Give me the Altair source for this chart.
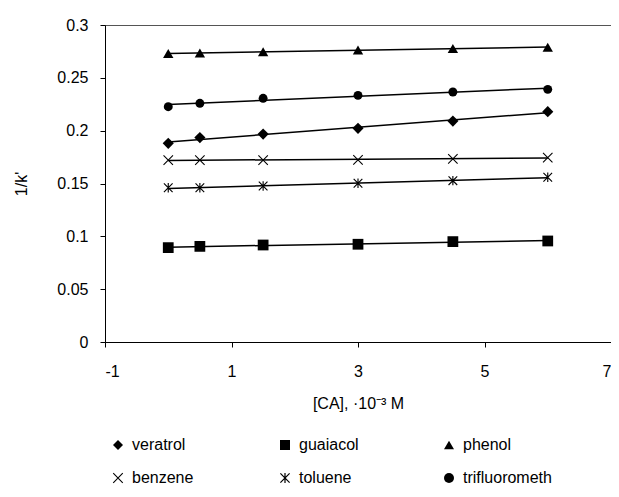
import math
import altair as alt
import pandas as pd

x_vals = [0, 0.5, 1.5, 3, 4.5, 6]
series_names = ["veratrol", "guaiacol", "phenol", "benzene", "toluene", "trifluorometh"]
veratrol = [0.188, 0.1935, 0.1968, 0.2022, 0.2091, 0.2180]
guaiacol = [0.0893, 0.0905, 0.0918, 0.0925, 0.0950, 0.0956]
phenol = [0.2730, 0.2735, 0.2747, 0.2763, 0.2778, 0.2790]
benzene = [0.1722, 0.1722, 0.1722, 0.1724, 0.1733, 0.1745]
toluene = [0.1460, 0.1460, 0.1476, 0.1502, 0.1527, 0.1559]
trifluorometh = [0.2227, 0.2259, 0.2306, 0.2334, 0.2366, 0.2391]

x_ticks = [-1, 1, 3, 5, 7]
y_ticks = [0, 0.05, 0.1, 0.15, 0.2, 0.25, 0.3]

series_values = [veratrol, guaiacol, phenol, benzene, toluene, trifluorometh]
rows = []
for name, vals in zip(series_names, series_values):
    for xv, yv in zip(x_vals, vals):
        rows.append({"x": xv, "y": yv, "series": name, "grp": name})
df = pd.DataFrame(rows)


def bar_path(angle_deg, half_len, half_w):
    a = math.radians(angle_deg)
    ca, sa = math.cos(a), math.sin(a)
    corners = [(-half_w, -half_len), (half_w, -half_len), (half_w, half_len), (-half_w, half_len)]
    pts = [(x * ca - y * sa, x * sa + y * ca) for x, y in corners]
    return "M" + "L".join(f"{px:.3f},{py:.3f}" for px, py in pts) + "Z"


cross_path = bar_path(45, 1.35, 0.11) + bar_path(-45, 1.35, 0.11)
star_path = bar_path(45, 1.3, 0.12) + bar_path(-45, 1.3, 0.12) + bar_path(0, 1.0, 0.12)

shape_of = {
    "veratrol": "diamond",
    "guaiacol": "square",
    "phenol": "triangle-up",
    "benzene": cross_path,
    "toluene": star_path,
    "trifluorometh": "circle",
}
size_of = {"veratrol": 125, "guaiacol": 80, "phenol": 140, "benzene": 75, "toluene": 90, "trifluorometh": 95}

# legend fills column by column (2 rows x 3 columns)
legend_order = ["veratrol", "benzene", "guaiacol", "toluene", "phenol", "trifluorometh"]

FONT = "Liberation Sans"

xscale = alt.Scale(domain=[-1, 7], nice=False, zero=False)
yscale = alt.Scale(domain=[0, 0.3], nice=False)

base = alt.Chart(df)

lines = base.transform_regression(
    "x", "y", groupby=["series"], method="linear"
).mark_line(color="black", strokeWidth=1.5).encode(
    x=alt.X("x:Q", scale=xscale),
    y=alt.Y("y:Q", scale=yscale),
    detail="series:N",
)

points = base.mark_point(
    filled=True, fill="black", opacity=1
).encode(
    x=alt.X(
        "x:Q",
        scale=xscale,
        axis=alt.Axis(
            values=x_ticks,
            labelExpr="datum.value",
            labelPadding=16,
            title="[CA], ·10⁻³ M",
            titleY=53,
        ),
    ),
    y=alt.Y(
        "y:Q",
        scale=yscale,
        axis=alt.Axis(
            values=y_ticks,
            format="~g",
            title="1/k'",
            titleX=-84,
            titleBaseline="middle",
        ),
    ),
    size=alt.Size(
        "grp:N",
        scale=alt.Scale(domain=series_names, range=[size_of[s] for s in series_names]),
        legend=None,
    ),
    shape=alt.Shape(
        "series:N",
        scale=alt.Scale(domain=legend_order, range=[shape_of[s] for s in legend_order]),
        legend=alt.Legend(
            title=None,
            orient="none",
            legendX=5,
            legendY=412,
            columns=3,
            columnPadding=82,
            rowPadding=16,
            symbolSize=100,
            symbolFillColor="black",
            symbolOpacity=1,
            labelFontSize=16,
            labelFont=FONT,
            labelColor="black",
            labelOffset=6,
            padding=0,
        ),
    ),
)

chart = (
    alt.layer(lines, points)
    .properties(
        width=506,
        height=317,
        autosize=alt.AutoSizeParams(type="none"),
        padding={"left": 97, "top": 17, "right": 0, "bottom": 147},
    )
    .configure_view(stroke="#555555", strokeWidth=1)
    .configure_axis(
        grid=False,
        domainColor="black",
        tickColor="black",
        tickSize=5,
        labelFont=FONT,
        labelFontSize=16,
        labelColor="black",
        labelPadding=12,
        titleFont=FONT,
        titleFontSize=16,
        titleFontWeight="normal",
        titleColor="black",
    )
)

chart.save("out.html", embed_options={"renderer": "svg", "actions": False})
